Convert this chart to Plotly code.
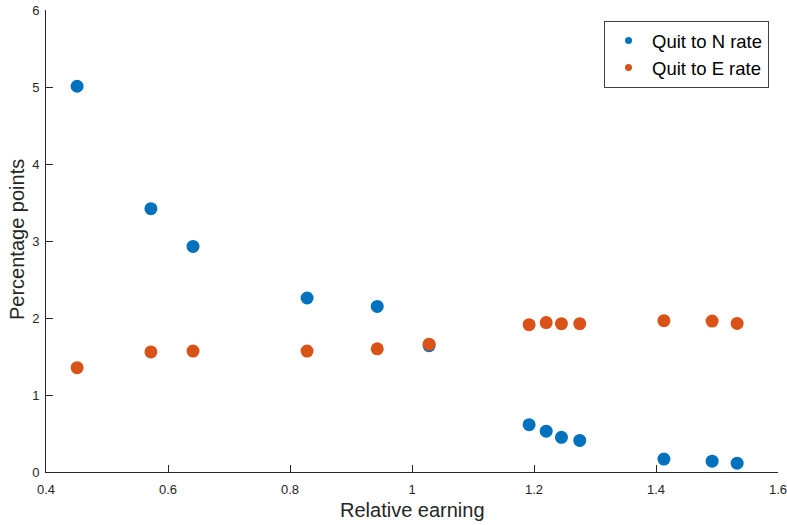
import plotly.graph_objects as go

relative_earning = [0.451, 0.572, 0.641, 0.828, 0.943, 1.028, 1.192, 1.220, 1.245, 1.275, 1.413, 1.492, 1.533]
quit_to_n = [5.01, 3.42, 2.93, 2.26, 2.15, 1.64, 0.615, 0.53, 0.45, 0.41, 0.168, 0.14, 0.115]
quit_to_e = [1.355, 1.56, 1.57, 1.57, 1.60, 1.66, 1.913, 1.94, 1.926, 1.926, 1.965, 1.96, 1.93]

x_ticks = [0.4, 0.6, 0.8, 1.0, 1.2, 1.4, 1.6]
x_tick_labels = ["0.4", "0.6", "0.8", "1", "1.2", "1.4", "1.6"]
y_ticks = [0, 1, 2, 3, 4, 5, 6]

blue = "#0072BD"
orange = "#D95319"

fig = go.Figure()
fig.add_trace(go.Scatter(x=relative_earning, y=quit_to_n, mode="markers",
                         marker=dict(color=blue, size=13), showlegend=False))
fig.add_trace(go.Scatter(x=relative_earning, y=quit_to_e, mode="markers",
                         marker=dict(color=orange, size=13), showlegend=False))
# legend entries with smaller markers (MATLAB style)
fig.add_trace(go.Scatter(x=[None], y=[None], mode="markers", name="Quit to N rate",
                         marker=dict(color=blue, size=7)))
fig.add_trace(go.Scatter(x=[None], y=[None], mode="markers", name="Quit to E rate",
                         marker=dict(color=orange, size=7)))

axis_color = "#262626"
W, H = 787, 525
L, R, T, B = 46, 9, 10, 53
pw, ph = W - L - R, H - T - B

fig.update_layout(
    width=W, height=H,
    margin=dict(l=L, r=R, t=T, b=B, autoexpand=False),
    plot_bgcolor="white", paper_bgcolor="white",
    font=dict(family="Liberation Sans, Arial, sans-serif", color=axis_color),
    legend=dict(x=(769 - L) / pw, xanchor="right", y=(472 - 21) / ph, yanchor="top",
                bordercolor="#404040", borderwidth=1, bgcolor="white",
                font=dict(size=18.5, color="black"), itemwidth=37,
                tracegroupgap=0),
    xaxis=dict(range=[0.4, 1.6], tickvals=x_ticks, ticktext=x_tick_labels,
               showgrid=False, zeroline=False, showline=True, linecolor=axis_color,
               linewidth=1, ticks="inside", ticklen=7, tickcolor=axis_color,
               tickfont=dict(size=13), ticklabelstandoff=5, automargin=False,
               ticklabeloverflow="allow"),
    yaxis=dict(range=[0, 6], tickvals=y_ticks,
               showgrid=False, zeroline=False, showline=True, linecolor=axis_color,
               linewidth=1, ticks="inside", ticklen=7, tickcolor=axis_color,
               tickfont=dict(size=13), ticklabelstandoff=3, automargin=False,
               ticklabeloverflow="allow"),
    annotations=[
        dict(text="Relative earning", xref="paper", yref="paper",
             x=0.5, y=(472 - 510) / ph,
             xanchor="center", yanchor="middle", showarrow=False,
             font=dict(size=20, color=axis_color)),
        dict(text="Percentage points", xref="paper", yref="paper",
             x=(17 - L) / pw, y=(472 - 240) / ph, textangle=-90,
             xanchor="center", yanchor="middle", showarrow=False,
             font=dict(size=20, color=axis_color)),
    ],
)

fig.write_html("out.html")
